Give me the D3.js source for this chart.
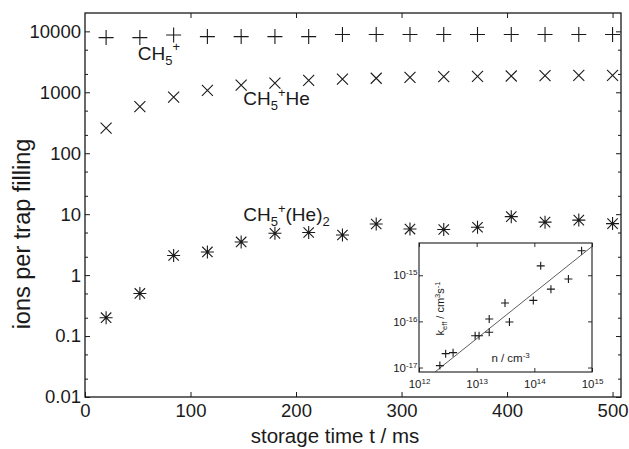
<!DOCTYPE html>
<html>
<head>
<meta charset="utf-8">
<script src="https://cdn.jsdelivr.net/npm/d3@7"></script>
<style>
  body { margin: 0; background: #fff; }
  svg text { font-family: "Liberation Sans", Arial, Helvetica, sans-serif; fill: #1a1a1a; }
</style>
</head>
<body>
<div id="wrapper"></div>
<script>
// Main plot: ions per trap filling against storage time (ms).
const storageTimes = [20, 52, 84, 116, 148, 180, 212, 244, 276, 308, 340, 372, 404, 436, 468, 500]
const ch5Counts = [7900, 7900, 8700, 8200, 8200, 8200, 8200, 8900, 8900, 8900, 8900, 8900, 8900, 8900, 8900, 8900]
const ch5HeCounts = [258, 584, 834, 1072, 1312, 1415, 1563, 1650, 1700, 1750, 1800, 1820, 1850, 1880, 1900, 1900]
const ch5He2Counts = [0.2, 0.5, 2.1, 2.4, 3.5, 4.85, 5.0, 4.55, 6.9, 5.7, 5.6, 6.1, 9.1, 7.4, 8.0, 7.0]

const xTicks = [0, 100, 200, 300, 400, 500]
const yTicks = [0.01, 0.1, 1, 10, 100, 1000, 10000]
const yTickLabels = ["0.01", "0.1", "1", "10", "100", "1000", "10000"]
const yMinorTicks = [0.02, 0.05, 0.2, 0.5, 2, 5, 20, 50, 200, 500, 2000, 5000]

// Inset: effective rate coefficient against helium density.
const heDensity = [2.3e12, 2.9e12, 3.9e12, 9.4e12, 1.1e13, 1.65e13, 1.65e13, 3.1e13, 3.7e13, 9.6e13, 1.29e14, 1.94e14, 3.9e14, 6.6e14]
const kEff = [1.1e-17, 2.0e-17, 2.1e-17, 4.9e-17, 4.9e-17, 1.13e-16, 5.8e-17, 2.5e-16, 9.7e-17, 2.85e-16, 1.6e-15, 5.0e-16, 8.3e-16, 3.4e-15]
const fitDensity = [1.89e12, 1e15]
const fitK = [8e-18, 4.2e-15]
const insetXTicks = [1e12, 1e13, 1e14, 1e15]
const insetYTicks = [1e-17, 1e-16, 1e-15]

const dimensions = {
  width: 629,
  height: 449,
  margin: { top: 13, right: 8, bottom: 52, left: 85 },
}
dimensions.boundedWidth = dimensions.width - dimensions.margin.left - dimensions.margin.right
dimensions.boundedHeight = dimensions.height - dimensions.margin.top - dimensions.margin.bottom

const inset = { left: 334, top: 230, width: 173, height: 129 }

const ink = "#1a1a1a"

function drawChart() {
  const wrapper = d3.select("#wrapper")
    .append("svg")
      .attr("width", dimensions.width)
      .attr("height", dimensions.height)

  const bounds = wrapper.append("g")
    .attr("transform", `translate(${dimensions.margin.left},${dimensions.margin.top})`)

  const xScale = d3.scaleLinear()
    .domain([0, 508])
    .range([0, dimensions.boundedWidth])

  const yScale = d3.scaleLog()
    .domain([0.01, 20000])
    .range([dimensions.boundedHeight, 0])

  // axes, gnuplot style: ticks point inwards, mirrored on top/right
  const styleAxis = g => {
    g.select(".domain").remove()
    g.selectAll(".tick line").attr("stroke", ink).attr("stroke-width", 1)
    g.selectAll("text")
      .attr("fill", ink)
      .attr("font-size", 18.5)
      .attr("font-family", "Liberation Sans, Arial, sans-serif")
  }

  bounds.append("g")
    .attr("transform", `translate(0,${dimensions.boundedHeight})`)
    .call(d3.axisBottom(xScale).tickValues(xTicks).tickSize(-5).tickSizeOuter(0).tickPadding(7))
    .call(styleAxis)

  bounds.append("g")
    .call(d3.axisTop(xScale).tickValues(xTicks.slice(1)).tickSize(-5).tickSizeOuter(0).tickFormat(""))
    .call(styleAxis)

  bounds.append("g")
    .call(d3.axisLeft(yScale).tickValues(yTicks).tickSize(-5).tickSizeOuter(0).tickPadding(4)
      .tickFormat((d, i) => yTickLabels[i]))
    .call(styleAxis)

  bounds.append("g")
    .call(d3.axisLeft(yScale).tickValues(yMinorTicks).tickSize(-3).tickSizeOuter(0).tickFormat(""))
    .call(styleAxis)

  bounds.append("g")
    .attr("transform", `translate(${dimensions.boundedWidth},0)`)
    .call(d3.axisRight(yScale).tickValues(yTicks).tickSize(-5).tickSizeOuter(0).tickFormat(""))
    .call(styleAxis)

  bounds.append("g")
    .attr("transform", `translate(${dimensions.boundedWidth},0)`)
    .call(d3.axisRight(yScale).tickValues(yMinorTicks).tickSize(-3).tickSizeOuter(0).tickFormat(""))
    .call(styleAxis)

  bounds.append("rect")
    .attr("width", dimensions.boundedWidth)
    .attr("height", dimensions.boundedHeight)
    .attr("fill", "none")
    .attr("stroke", ink)
    .attr("stroke-width", 1.3)

  // point markers
  const plus = (x, y, r) => `M${x - r},${y}H${x + r}M${x},${y - r}V${y + r}`
  const cross = (x, y, r) => `M${x - r},${y - r}L${x + r},${y + r}M${x - r},${y + r}L${x + r},${y - r}`
  const star = (x, y, r) => plus(x, y, r) + cross(x, y, r * 0.8)

  const drawSeries = (values, shape, r) => {
    bounds.append("g").selectAll("path")
      .data(storageTimes)
      .join("path")
        .attr("d", (d, i) => shape(xScale(d), yScale(values[i]), r))
        .attr("fill", "none")
        .attr("stroke", ink)
        .attr("stroke-width", 1.1)
  }
  drawSeries(ch5Counts, plus, 7.5)
  drawSeries(ch5HeCounts, cross, 5.5)
  drawSeries(ch5He2Counts, star, 6.5)

  // species labels
  const speciesLabel = (t, v, parts) => {
    const text = bounds.append("text")
      .attr("x", xScale(t))
      .attr("y", yScale(v))
      .attr("font-size", 19)
    parts.forEach(p => {
      text.append("tspan")
        .attr("dy", p.dy || 0)
        .attr("font-size", p.small ? 13 : null)
        .text(p.s)
    })
  }
  speciesLabel(50, 3400, [{ s: "CH" }, { s: "5", small: true, dy: 5 }, { s: "+", small: true, dy: -13.4 }])
  speciesLabel(150, 620, [{ s: "CH" }, { s: "5", small: true, dy: 5 }, { s: "+", small: true, dy: -13.4 }, { s: "He", dy: 8.4 }])
  speciesLabel(150, 7.74, [{ s: "CH" }, { s: "5", small: true, dy: 5 }, { s: "+", small: true, dy: -13.4 }, { s: "(He)", dy: 8.4 }, { s: "2", small: true, dy: 5 }])

  // axis titles
  wrapper.append("text")
    .attr("x", 335)
    .attr("y", 443)
    .attr("text-anchor", "middle")
    .attr("font-size", 20.5)
    .text("storage time t / ms")

  wrapper.append("text")
    .attr("transform", "translate(30,234) rotate(-90)")
    .attr("text-anchor", "middle")
    .attr("font-size", 23.5)
    .text("ions per trap filling")

  // ---- inset ----
  const insetG = bounds.append("g")
    .attr("transform", `translate(${inset.left},${inset.top})`)

  insetG.append("rect")
    .attr("width", inset.width)
    .attr("height", inset.height)
    .attr("fill", "#fff")

  const nScale = d3.scaleLog()
    .domain([1e12, 1e15])
    .range([0, inset.width])
  const kScale = d3.scaleLog()
    .domain([8e-18, 5e-15])
    .range([inset.height, 0])

  const powerLabels = g => {
    g.selectAll("text").each(function(d) {
      const t = d3.select(this)
      t.text(null)
        .attr("font-size", 11.5)
        .attr("fill", ink)
        .attr("font-family", "Liberation Sans, Arial, sans-serif")
      t.append("tspan").text("10")
      t.append("tspan")
        .attr("dy", "-0.5em")
        .attr("font-size", 8)
        .text(Math.round(Math.log10(d)))
    })
  }
  const styleInsetAxis = g => {
    g.select(".domain").remove()
    g.selectAll(".tick line").attr("stroke", ink).attr("stroke-width", 0.9)
  }

  insetG.append("g")
    .attr("transform", `translate(0,${inset.height})`)
    .call(d3.axisBottom(nScale).tickValues(insetXTicks).tickSize(-4).tickSizeOuter(0).tickPadding(8))
    .call(styleInsetAxis)
    .call(powerLabels)
  insetG.append("g")
    .call(d3.axisTop(nScale).tickValues(insetXTicks).tickSize(-4).tickSizeOuter(0).tickFormat(""))
    .call(styleInsetAxis)
  insetG.append("g")
    .call(d3.axisLeft(kScale).tickValues(insetYTicks).tickSize(-4).tickSizeOuter(0).tickPadding(1.5))
    .call(styleInsetAxis)
    .call(powerLabels)
  insetG.append("g")
    .attr("transform", `translate(${inset.width},0)`)
    .call(d3.axisRight(kScale).tickValues(insetYTicks).tickSize(-4).tickSizeOuter(0).tickFormat(""))
    .call(styleInsetAxis)

  insetG.append("rect")
    .attr("width", inset.width)
    .attr("height", inset.height)
    .attr("fill", "none")
    .attr("stroke", ink)
    .attr("stroke-width", 1.1)

  const fitLine = d3.line()
    .x(d => nScale(d))
    .y((d, i) => kScale(fitK[i]))
  insetG.append("path")
    .attr("d", fitLine(fitDensity))
    .attr("fill", "none")
    .attr("stroke", "#333")
    .attr("stroke-width", 0.8)

  insetG.append("g").selectAll("path")
    .data(heDensity)
    .join("path")
      .attr("d", (d, i) => plus(nScale(d), kScale(kEff[i]), 4))
      .attr("fill", "none")
      .attr("stroke", ink)
      .attr("stroke-width", 1.1)

  const nLabel = insetG.append("text")
    .attr("x", nScale(1.8e13))
    .attr("y", kScale(1.3e-17))
    .attr("font-size", 11.5)
  nLabel.append("tspan").text("n / cm")
  nLabel.append("tspan").attr("dy", "-0.5em").attr("font-size", 8).text("-3")

  const kLabel = insetG.append("text")
    .attr("transform", `translate(25,${inset.height / 2 + 1}) rotate(-90)`)
    .attr("text-anchor", "middle")
    .attr("font-size", 11)
  kLabel.append("tspan").text("k")
  kLabel.append("tspan").attr("dy", 3).attr("font-size", 7.5).text("eff")
  kLabel.append("tspan").attr("dy", -3).text(" / cm")
  kLabel.append("tspan").attr("dy", -4).attr("font-size", 7.5).text("3")
  kLabel.append("tspan").attr("dy", 4).text("s")
  kLabel.append("tspan").attr("dy", -4).attr("font-size", 7.5).text("-1")
}

drawChart()
</script>
</body>
</html>
